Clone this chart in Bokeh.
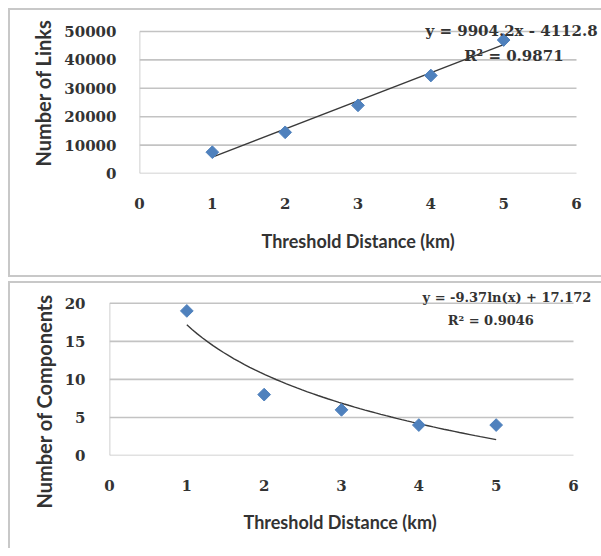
import numpy as np
from bokeh.plotting import figure
from bokeh.models import Range1d, Label, FixedTicker, NumeralTickFormatter, Title
from bokeh.embed import file_html
from bokeh.resources import INLINE

# ---- data ----
distance = [1, 2, 3, 4, 5]
links = [7500, 14500, 24000, 34500, 47000]
components = [19, 8, 6, 4, 4]
x_ticks = [0, 1, 2, 3, 4, 5, 6]
links_ticks = [0, 10000, 20000, 30000, 40000, 50000]
comp_ticks = [0, 5, 10, 15, 20]
lin_slope, lin_icept = 9904.2, -4112.8
log_coef, log_icept = -9.37, 17.172
eq_links = "y = 9904.2x - 4112.8"
r2_links = "R² = 0.9871"
eq_comp = "y = -9.37ln(x) + 17.172"
r2_comp = "R² = 0.9046"
x_title = "Threshold Distance (km)"
links_title = "Number of Links"
comp_title = "Number of Components"

BLUE = "#4f81bd"
GRID = "#c3c3c3"
TXT = "#333333"
TICKFONT = "DejaVu Serif"
TITLEFONT = "Lato"
BOX = "inset 2px 2px 0 #c8c8c8, inset 0 -2px 0 #c8c8c8"


def style(p, yticks):
    p.background_fill_color = None
    p.border_fill_color = None
    p.outline_line_color = None
    p.grid.visible = False
    xmax = max(x_ticks)
    # horizontal gridlines and the vertical axis line, limited to the tick span
    p.segment(x0=min(x_ticks), x1=xmax, y0=yticks, y1=yticks, line_color=GRID, line_width=1.6)
    p.segment(x0=[min(x_ticks)], x1=[min(x_ticks)], y0=[min(yticks)], y1=[max(yticks)],
              line_color=GRID, line_width=1.6)
    p.xaxis.ticker = FixedTicker(ticks=x_ticks)
    p.yaxis.ticker = FixedTicker(ticks=yticks)
    p.yaxis.formatter = NumeralTickFormatter(format="0")
    for ax in (p.xaxis, p.yaxis):
        ax.axis_line_color = None
        ax.major_tick_line_color = None
        ax.minor_tick_line_color = None
        ax.major_label_text_font = TICKFONT
        ax.major_label_text_font_style = "bold"
        ax.major_label_text_font_size = "15px"
        ax.major_label_text_color = TXT


def titles(p, xoff, xstand, yoff, ystand, ytext):
    p.add_layout(Title(text=x_title, align="left", offset=xoff, standoff=xstand,
                       text_font=TITLEFONT, text_font_style="bold", text_font_size="18px",
                       text_color=TXT), "below")
    p.add_layout(Title(text=ytext, align="left", offset=yoff, standoff=ystand,
                       text_font=TITLEFONT, text_font_style="bold", text_font_size="20px",
                       text_color=TXT), "left")


def label(p, x, y, text, align, size):
    p.add_layout(Label(x=x, y=y, text=text, text_align=align, text_baseline="middle",
                       text_font=TICKFONT, text_font_style="bold", text_font_size=size,
                       text_color=TXT))


# ---- top panel: plot area 0..6 -> 437 px, 0..50000 -> 142 px; frame padded for the labels ----
p1 = figure(width=593, height=269,
            x_range=Range1d(0, 6 * 460 / 437), y_range=Range1d(0, 50000 * 153 / 142),
            output_backend="svg", toolbar_location=None,
            min_border_left=131, min_border_right=2, min_border_top=12, min_border_bottom=104)
style(p1, links_ticks)
p1.xaxis.major_label_standoff = 18
p1.yaxis.major_label_standoff = 17
titles(p1, 122, 32, 7, 13, links_title)
xl = np.array([distance[0], distance[-1]], dtype=float)
p1.line(xl, lin_slope * xl + lin_icept, line_color="#3a3a3a", line_width=1.4)
p1.scatter(distance, links, marker="square", angle=np.pi / 4, size=9,
           fill_color=BLUE, line_color=BLUE)
label(p1, 6.29, 50300, eq_links, "right", "15px")
label(p1, 5.14, 41400, r2_links, "center", "15px")
p1.styles = {"box-shadow": BOX}
p1.margin = (8, 0, 0, 8)

# ---- bottom panel: plot area 0..6 -> 464 px, 0..20 -> 154 px ----
p2 = figure(width=593, height=267,
            x_range=Range1d(0, 6 * 490 / 464), y_range=Range1d(0, 20 * 171 / 154),
            output_backend="svg", toolbar_location=None,
            min_border_left=101, min_border_right=2, min_border_top=5, min_border_bottom=91)
style(p2, comp_ticks)
p2.xaxis.major_label_standoff = 18
p2.yaxis.major_label_standoff = 18
titles(p2, 134, 31, -53, 12, comp_title)
xc = np.linspace(distance[0], distance[-1], 60)
p2.line(xc, log_coef * np.log(xc) + log_icept, line_color="#3a3a3a", line_width=1.4)
p2.scatter(distance, components, marker="square", angle=np.pi / 4, size=9,
           fill_color=BLUE, line_color=BLUE)
label(p2, 6.23, 20.7, eq_comp, "right", "13px")
label(p2, 4.93, 17.75, r2_comp, "center", "13px")
p2.styles = {"box-shadow": "inset 2px 2px 0 #c8c8c8"}
p2.margin = (4, 0, 0, 8)

open("out.html", "w").write(file_html([p1, p2], INLINE))
